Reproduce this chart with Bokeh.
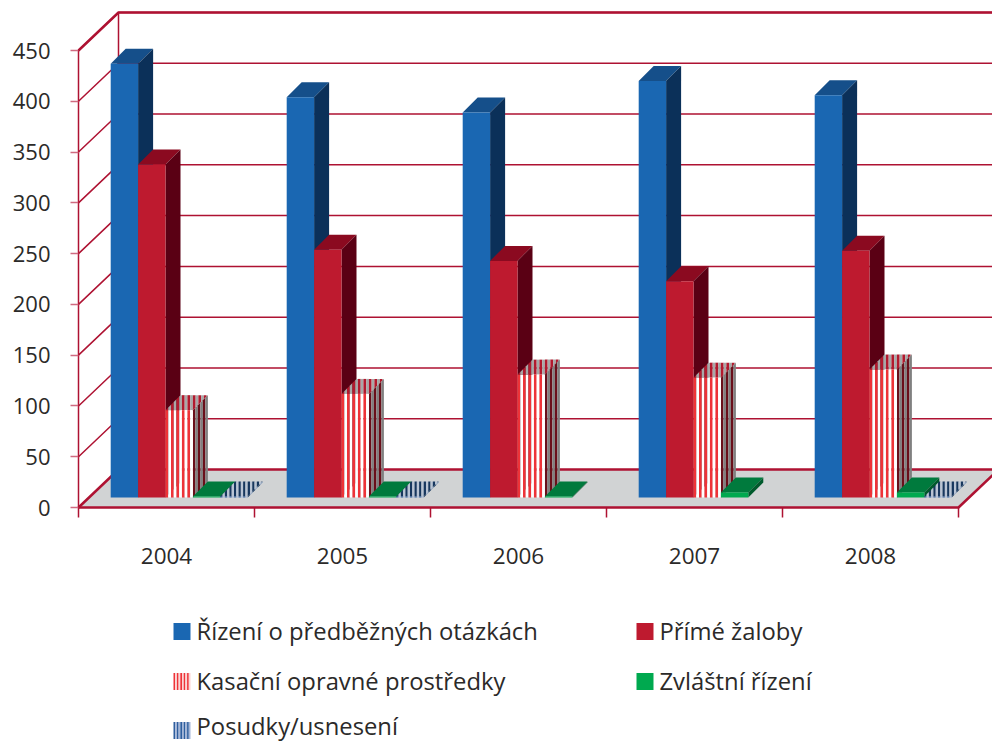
from bokeh.embed import file_html
from bokeh.resources import INLINE
from bokeh.plotting import figure
from bokeh.models import Range1d, FixedTicker
from bokeh.core.properties import value
import numpy as np

years = ["2004", "2005", "2006", "2007", "2008"]
predbezne = [427, 394, 379, 410, 396]
prime = [328, 244, 233, 213, 243]
kasacni = [86, 102, 121, 118, 126]
zvlastni = [1, 1, 1, 5, 5]
posudky = [1, 1, 0, 0, 1]
y_ticks = [0, 50, 100, 150, 200, 250, 300, 350, 400, 450]
labels = ["Řízení o předběžných otázkách", "Přímé žaloby", "Kasační opravné prostředky",
          "Zvláštní řízení", "Posudky/usnesení"]

RED = "#ae1232"
INK = "#2b2a29"
FONT = "Open Sans"
PXU = 457 / 450      # px per value unit
PXC = 176.0          # px per category
LEFT, BOTTOM, RIGHT, TOP = 78, 507, 992, 12

def dx(px): return px / PXC
def dy(px): return px / PXU
def X(px): return (px - LEFT) / PXC
def Y(py): return (BOTTOM - py) / PXU

p = figure(width=992, height=742, output_backend="svg", toolbar_location=None,
           x_range=Range1d(0, X(RIGHT)), y_range=Range1d(0, Y(TOP)),
           min_border_left=78, min_border_right=0, min_border_top=12, min_border_bottom=235,
           outline_line_color=None, background_fill_color=None, border_fill_color="white")
p.grid.visible = False

# axes
xa = p.xaxis[0]
xa.ticker = FixedTicker(ticks=[i + 0.5 for i in range(len(years))],
                        minor_ticks=list(range(len(years) + 1)))
xa.major_label_overrides = {i + 0.5: y for i, y in enumerate(years)}
xa.major_tick_line_color = None
xa.minor_tick_line_color = RED
xa.minor_tick_line_width = 1.5
xa.minor_tick_out = 10
xa.minor_tick_in = 0
xa.major_tick_out = 0
xa.major_tick_in = 0
xa.major_label_standoff = 30
xa.major_label_text_font = FONT
xa.major_label_text_font_size = "22.5px"
xa.major_label_text_color = INK
xa.axis_line_color = None

ya = p.yaxis[0]
ya.ticker = FixedTicker(ticks=y_ticks)
ya.bounds = (0, max(y_ticks))
ya.major_tick_line_color = "#d06a80"
ya.major_tick_line_width = 1.5
ya.major_tick_out = 8
ya.major_tick_in = 0
ya.minor_tick_line_color = None
ya.major_label_standoff = 20
ya.major_label_text_font = FONT
ya.major_label_text_font_size = "22px"
ya.major_label_text_color = INK
ya.axis_line_color = RED
ya.axis_line_width = 1.5

WX, WY = dx(40), dy(38)   # wall depth
n = len(years)
top_v = max(y_ticks)

# floor
p.patch([0, n, n + WX, WX], [0, 0, WY, WY], fill_color="#d1d3d4", line_color=None, level="annotation")
# grid lines on the walls
grid_v = [v for v in y_ticks if v > 0]
p.multi_line([[0, WX, X(RIGHT)] for v in grid_v],
             [[v, v + WY, v + WY] for v in grid_v],
             line_color=RED, line_width=1.5, level="annotation")
p.line([WX, WX], [WY, top_v + WY], line_color=RED, line_width=1.5, level="annotation")
p.line([0, WX, X(RIGHT)], [top_v, top_v + WY, top_v + WY], line_color=RED, line_width=2.5, level="annotation")
# floor edges
p.line([0, WX, X(RIGHT)], [0, WY, WY], line_color=RED, line_width=2.5, level="annotation")
p.line([0, n, n + WX], [0, 0, WY], line_color=RED, line_width=2.5, level="annotation")

# bars
BASE_X, BASE_Y = dx(32.2), dy(10)
BW = dx(27.4)
DX, DY = dx(15), dy(15)

def bands(x0, x1, period, first=0.5):
    """Vertical stripe spans [a, b) inside x0..x1."""
    out = []
    a = x0
    while a < x1 - 1e-9:
        out.append((a, min(a + period * first, x1), min(a + period, x1)))
        a += period
    return out

def solid_bar(vals, front, top, side, slot):
    xs, ys, cs = [], [], []
    for i, v in enumerate(vals):
        x0 = i + BASE_X + slot * BW
        y0 = BASE_Y
        y1 = BASE_Y + v
        xs += [[x0, x0 + BW, x0 + BW + DX, x0 + DX], [x0 + BW, x0 + BW + DX, x0 + BW + DX, x0 + BW],
               [x0, x0 + BW, x0 + BW, x0]]
        ys += [[y1, y1, y1 + DY, y1 + DY], [y0, y0 + DY, y1 + DY, y1], [y0, y0, y1, y1]]
        cs += [top, side, front]
    p.patches(xs, ys, fill_color=cs, line_color=None, level="annotation")

def top_poly(a, b, x0, y1):
    lo = lambda x: y1 + max(0.0, x - (x0 + BW)) * DY / DX
    hi = lambda x: y1 + min(x - x0, DX) * DY / DX
    pts = sorted({a, b} | ({x0 + DX} if a < x0 + DX < b else set()) | ({x0 + BW} if a < x0 + BW < b else set()))
    return pts + pts[::-1], [lo(t) for t in pts] + [hi(t) for t in pts[::-1]]

def striped_bar(vals, f_a, f_b, t_a, t_b, s_a, s_b, slot, n_front):
    xs, ys, cs = [], [], []
    def add(x, y, c):
        xs.append(list(x)); ys.append(list(y)); cs.append(c)
    for i, v in enumerate(vals):
        if v <= 0:
            continue
        x0 = i + BASE_X + slot * BW
        y0 = BASE_Y
        y1 = BASE_Y + v
        # top
        for a, m, b in bands(x0, x0 + BW + DX, BW / n_front):
            px_, py_ = top_poly(a, m, x0, y1)
            add(px_, py_, t_a)
            if b > m:
                px_, py_ = top_poly(m, b, x0, y1)
                add(px_, py_, t_b)
        # side
        xr = x0 + BW
        for a, m, b in bands(xr, xr + DX, DX / 3):
            sl = DY / DX
            add([a, m, m, a], [y0 + (a - xr) * sl, y0 + (m - xr) * sl, y1 + (m - xr) * sl, y1 + (a - xr) * sl], s_a)
            add([m, b, b, m], [y0 + (m - xr) * sl, y0 + (b - xr) * sl, y1 + (b - xr) * sl, y1 + (m - xr) * sl], s_b)
        # front
        for a, m, b in bands(x0, x0 + BW, BW / n_front):
            add([a, m, m, a], [y0, y0, y1, y1], f_a)
            add([m, b, b, m], [y0, y0, y1, y1], f_b)
    p.patches(xs, ys, fill_color=cs, line_color=None, level="annotation")

solid_bar(predbezne, "#1a67b2", "#154f8a", "#0b3059", 0)
solid_bar(prime, "#be1a2f", "#8b0a20", "#5a0014", 1)
striped_bar(kasacni, "#ee3338", "#ffffff", "#b21a2e", "#a8a8a8", "#6a0f1a", "#808080", 2, 5)
solid_bar(zvlastni, "#00a94f", "#007a3d", "#005a2c", 3)
striped_bar(posudky, "#2e5e9e", "#a4b6d8", "#17375e", "#b9c4d4", "#17375e", "#8aa0c0", 4, 6)

# legend
ICON = 17
def legend_icon(px, py, kind):
    x0, y0 = X(px), Y(py + ICON / 2)
    w, h = dx(ICON), dy(ICON)
    if isinstance(kind, str):
        p.patch([x0, x0 + w, x0 + w, x0], [y0, y0, y0 + h, y0 + h], fill_color=kind, line_color=None, level="annotation")
    else:
        for a, m, b in bands(x0, x0 + w, w / 5):
            p.patch([a, m, m, a], [y0, y0, y0 + h, y0 + h], fill_color=kind[0], line_color=None, level="annotation")
            p.patch([m, b, b, m], [y0, y0, y0 + h, y0 + h], fill_color=kind[1], line_color=None, level="annotation")

entries = [(173, 631, "#1a67b2", 630), (636, 631, "#be1a2f", 630),
           (173, 681, ("#ee3338", "#fbd5d5"), 680), (636, 681, "#00a94f", 680),
           (173, 730, ("#2e5e9e", "#a4b6d8"), 725)]
for (lx, ly, kind, ty), lab in zip(entries, labels):
    legend_icon(lx, ly, kind)
    p.text([X(lx + 23)], [Y(ty)], text=[lab], text_font=value(FONT), text_font_size="23.8px",
           text_color=INK, text_baseline="middle", text_align="left", level="annotation")

open("out.html", "w").write(file_html(p, INLINE))
